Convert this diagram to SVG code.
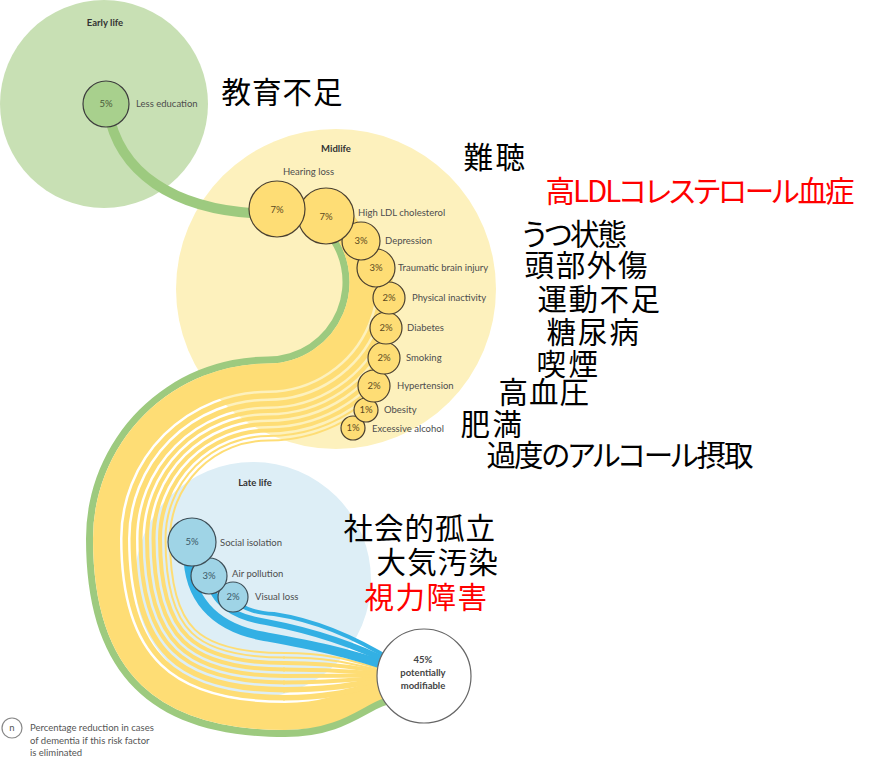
<svg xmlns="http://www.w3.org/2000/svg" width="874" height="757" viewBox="0 0 874 757">
<style>
.lbl{font-family:Lato,"Open Sans","Liberation Sans",sans-serif;font-size:9.5px;fill:#4d4d4d}
.hd{font-weight:bold;fill:#333;text-anchor:middle}
.pc{text-anchor:middle;fill:#5b4a1e}
.bp{text-anchor:middle;fill:#3a5866}
.jp{font-family:"Noto Sans CJK JP","Noto Sans CJK SC",sans-serif;font-size:29.5px;fill:#000}
.red{fill:#ff0000}
.palt{font-feature-settings:"palt" 1}
.yc{fill:#fedd75;stroke:#4a4030;stroke-width:1.2}
.bc{fill:#9fd4e6;stroke:#3e4f58;stroke-width:1.2}
.ys{fill:none;stroke:#fedd75}
.gs{fill:none;stroke:#9dca7f}
.bs{fill:none;stroke:#33b0e4}
</style>
<defs>
<path id="P" fill="none" d="M320.68 229.32 A74.5 74.5 0 0 1 268 356.5 A182 182 0 0 0 86 538.5 C86 678.5 155 737 285 737"/>
<clipPath id="side"><path d="M320.68 229.32 A74.5 74.5 0 0 1 268 356.5 A182 182 0 0 0 86 538.5 C86 678.5 155 737 285 737 L874 737 L874 0 L550 0 Z"/></clipPath>
<mask id="m7" maskUnits="userSpaceOnUse" x="0" y="0" width="874" height="757"><rect width="874" height="757" fill="#fff"/><use href="#P" stroke="#000" stroke-width="14"/></mask>
<mask id="m36" maskUnits="userSpaceOnUse" x="0" y="0" width="874" height="757"><rect width="874" height="757" fill="#fff"/><use href="#P" stroke="#000" stroke-width="73"/></mask>
<mask id="m44" maskUnits="userSpaceOnUse" x="0" y="0" width="874" height="757"><rect width="874" height="757" fill="#fff"/><use href="#P" stroke="#000" stroke-width="89"/></mask>
<mask id="m52" maskUnits="userSpaceOnUse" x="0" y="0" width="874" height="757"><rect width="874" height="757" fill="#fff"/><use href="#P" stroke="#000" stroke-width="105"/></mask>
<mask id="m59" maskUnits="userSpaceOnUse" x="0" y="0" width="874" height="757"><rect width="874" height="757" fill="#fff"/><use href="#P" stroke="#000" stroke-width="118"/></mask>
<mask id="m65" maskUnits="userSpaceOnUse" x="0" y="0" width="874" height="757"><rect width="874" height="757" fill="#fff"/><use href="#P" stroke="#000" stroke-width="131"/></mask>
<mask id="m72" maskUnits="userSpaceOnUse" x="0" y="0" width="874" height="757"><rect width="874" height="757" fill="#fff"/><use href="#P" stroke="#000" stroke-width="144"/></mask>
<mask id="m78" maskUnits="userSpaceOnUse" x="0" y="0" width="874" height="757"><rect width="874" height="757" fill="#fff"/><use href="#P" stroke="#000" stroke-width="157"/></mask>
<mask id="m83" maskUnits="userSpaceOnUse" x="0" y="0" width="874" height="757"><rect width="874" height="757" fill="#fff"/><use href="#P" stroke="#000" stroke-width="166"/></mask>
</defs>

<g id="backgrounds">
<circle id="early-life-area" cx="104" cy="104" r="104" fill="#c8e0b4"/>
<circle id="midlife-area" cx="336" cy="289" r="160" fill="#fdf1bd"/>
<circle id="late-life-area" cx="253" cy="580" r="118" fill="#ddeef6"/>
<text class="lbl hd" x="105" y="26">Early life</text>
<text class="lbl hd" x="336" y="152">Midlife</text>
<text class="lbl hd" x="255" y="486">Late life</text>
</g>

<g id="connectors">
<path class="gs" stroke-width="10" d="M108 110 C118 170 170 212 270 214"/>
<g clip-path="url(#side)">
<use href="#P" class="gs" stroke-width="14"/>
<use href="#P" class="ys" stroke-width="68" mask="url(#m7)"/>
<use href="#P" class="ys" stroke-width="84" mask="url(#m36)" stroke-dasharray="0 27.6 5000"/>
<use href="#P" class="ys" stroke-width="100" mask="url(#m44)" stroke-dasharray="0 48.9 5000"/>
<use href="#P" class="ys" stroke-width="113" mask="url(#m52)" stroke-dasharray="0 68.3 5000"/>
<use href="#P" class="ys" stroke-width="126" mask="url(#m59)" stroke-dasharray="0 86.2 5000"/>
<use href="#P" class="ys" stroke-width="139" mask="url(#m65)" stroke-dasharray="0 101.7 5000"/>
<use href="#P" class="ys" stroke-width="152" mask="url(#m72)" stroke-dasharray="0 116.4 5000"/>
<use href="#P" class="ys" stroke-width="161" mask="url(#m78)" stroke-dasharray="0 126.9 5000"/>
<use href="#P" class="ys" stroke-width="170" mask="url(#m83)" stroke-dasharray="0 137.2 5000"/>
</g>
<path class="ys" stroke-width="27" d="M283 716.5 H285 C350 716.5 370 688 395 688"/>
<path class="ys" stroke-width="5.5" d="M283 697.75 H285 C350 697.75 370 681.5 395 681.5"/>
<path class="ys" stroke-width="5.5" d="M283 689.75 H285 C350 689.75 370 679 395 679"/>
<path class="ys" stroke-width="4" d="M283 682.5 H285 C350 682.5 370 677 395 677"/>
<path class="ys" stroke-width="4" d="M283 676 H285 C350 676 370 675.5 395 675.5"/>
<path class="ys" stroke-width="4" d="M283 669.5 H285 C350 669.5 370 674 395 674"/>
<path class="ys" stroke-width="4" d="M283 663 H285 C350 663 370 672.5 395 672.5"/>
<path class="ys" stroke-width="2" d="M283 657.5 H285 C350 657.5 370 671.5 395 671.5"/>
<path class="ys" stroke-width="2" d="M283 653 H285 C350 653 370 670.5 395 670.5"/>
<path class="gs" stroke-width="7" d="M283 733.5 H285 C350 733.5 370 700 395 700"/>
<path class="bs" stroke-width="9" d="M188 548 C186 598 214 627 262 636 C305 644 345 651 395 669"/>
<path class="bs" stroke-width="6" d="M209 578 C212 603 234 617 266 622 C308 630 350 642 395 665"/>
<path class="bs" stroke-width="4" d="M233 600 C245 610 258 613 274 614 C314 620 352 635 395 662"/>
</g>

<g id="n-less-education">
<circle cx="106" cy="104" r="23" fill="#a8d08d" stroke="#3d3d3d" stroke-width="1.2"/>
<text class="lbl" x="106" y="107" text-anchor="middle" style="fill:#4a5a3a">5%</text>
<text class="lbl" x="136" y="107">Less education</text>
</g>

<g id="n-excessive-alcohol"><circle class="yc" cx="353" cy="428" r="12"/><text class="lbl pc" x="353" y="431">1%</text><text class="lbl" x="372" y="432">Excessive alcohol</text></g>
<g id="n-obesity"><circle class="yc" cx="366" cy="410" r="12"/><text class="lbl pc" x="366" y="413">1%</text><text class="lbl" x="384" y="413">Obesity</text></g>
<g id="n-hypertension"><circle class="yc" cx="374" cy="386" r="16"/><text class="lbl pc" x="374" y="389">2%</text><text class="lbl" x="397" y="389">Hypertension</text></g>
<g id="n-smoking"><circle class="yc" cx="384" cy="358" r="16"/><text class="lbl pc" x="384" y="361">2%</text><text class="lbl" x="406" y="361">Smoking</text></g>
<g id="n-diabetes"><circle class="yc" cx="386" cy="328" r="16"/><text class="lbl pc" x="386" y="331">2%</text><text class="lbl" x="407" y="331">Diabetes</text></g>
<g id="n-physical-inactivity"><circle class="yc" cx="389" cy="298" r="16"/><text class="lbl pc" x="389" y="301">2%</text><text class="lbl" x="412" y="301">Physical inactivity</text></g>
<g id="n-traumatic-brain-injury"><circle class="yc" cx="376" cy="268" r="19"/><text class="lbl pc" x="376" y="271">3%</text><text class="lbl" x="398" y="271">Traumatic brain injury</text></g>
<g id="n-depression"><circle class="yc" cx="361" cy="241" r="19"/><text class="lbl pc" x="361" y="244">3%</text><text class="lbl" x="385" y="244">Depression</text></g>
<g id="n-high-ldl"><circle class="yc" cx="326" cy="216" r="28"/><text class="lbl pc" x="326" y="220">7%</text><text class="lbl" x="358" y="216">High LDL cholesterol</text></g>
<g id="n-hearing-loss"><circle class="yc" cx="277" cy="209" r="28"/><text class="lbl pc" x="277" y="213">7%</text><text class="lbl" x="308.5" y="175" text-anchor="middle">Hearing loss</text></g>

<g id="n-visual-loss"><circle class="bc" cx="233" cy="597" r="15"/><text class="lbl bp" x="233" y="600">2%</text><text class="lbl" x="255" y="600">Visual loss</text></g>
<g id="n-air-pollution"><circle class="bc" cx="209" cy="576" r="18"/><text class="lbl bp" x="209" y="579">3%</text><text class="lbl" x="232" y="577">Air pollution</text></g>
<g id="n-social-isolation"><circle class="bc" cx="192" cy="542" r="24"/><text class="lbl bp" x="192" y="545">5%</text><text class="lbl" x="220" y="546">Social isolation</text></g>

<g id="n-outcome">
<circle cx="424" cy="676" r="47" fill="#fff" stroke="#666" stroke-width="1.2"/>
<text class="lbl" x="423" y="663" text-anchor="middle" font-weight="bold" style="fill:#444">45%</text>
<text class="lbl" x="423" y="676" text-anchor="middle" font-weight="bold" style="fill:#444">potentially</text>
<text class="lbl" x="423" y="689" text-anchor="middle" font-weight="bold" style="fill:#444">modifiable</text>
</g>

<g id="legend">
<circle cx="12" cy="728" r="10" fill="#fff" stroke="#888" stroke-width="1.2"/>
<text class="lbl" x="12" y="731" text-anchor="middle" style="fill:#555">n</text>
<text class="lbl" x="30" y="731" style="fill:#555">Percentage reduction in cases</text>
<text class="lbl" x="30" y="743.5" style="fill:#555">of dementia if this risk factor</text>
<text class="lbl" x="30" y="755.5" style="fill:#555">is eliminated</text>
</g>

<g id="japanese-labels">
<text class="jp" x="221.5" y="103" textLength="121">教育不足</text>
<text class="jp" x="463.5" y="168" textLength="61.5">難聴</text>
<text class="jp red palt" x="545.5" y="202" textLength="309">高LDLコレステロール血症</text>
<text class="jp palt" x="522" y="245" textLength="105">うつ状態</text>
<text class="jp" x="524.5" y="276" textLength="123">頭部外傷</text>
<text class="jp" x="537.5" y="310" textLength="122.5">運動不足</text>
<text class="jp" x="546.5" y="343" textLength="92.5">糖尿病</text>
<text class="jp" x="536.5" y="375" textLength="61.5">喫煙</text>
<text class="jp" x="498.5" y="403" textLength="90.5">高血圧</text>
<text class="jp" x="460.5" y="435" textLength="61.5">肥満</text>
<text class="jp palt" x="486.5" y="466" textLength="267">過度のアルコール摂取</text>
<text class="jp" x="343.5" y="539" textLength="151.5">社会的孤立</text>
<text class="jp" x="376.5" y="573" textLength="121.5">大気汚染</text>
<text class="jp red" x="364.5" y="608" textLength="122.5">視力障害</text>
</g>
</svg>
